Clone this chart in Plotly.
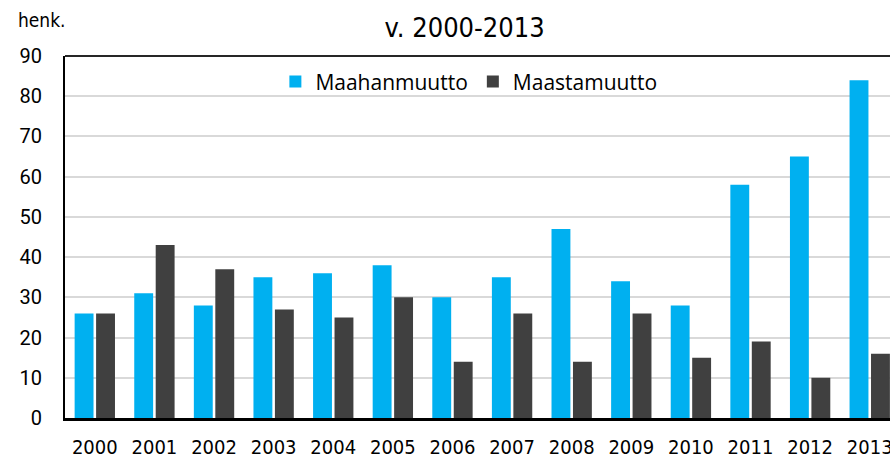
import plotly.graph_objects as go

years = [str(y) for y in range(2000, 2014)]
maahanmuutto = [26, 31, 28, 35, 36, 38, 30, 35, 47, 34, 28, 58, 65, 84]
maastamuutto = [26, 43, 37, 27, 25, 30, 14, 26, 14, 26, 15, 19, 10, 16]

NARROW = "Liberation Sans Narrow, DejaVu Sans Condensed, Roboto Condensed, Arial Narrow, Liberation Sans, sans-serif"

fig = go.Figure()
fig.add_trace(go.Bar(x=years, y=maahanmuutto, name="Maahanmuutto",
                     marker=dict(color="#00b0f0", line=dict(width=0))))
fig.add_trace(go.Bar(x=years, y=maastamuutto, name="Maastamuutto",
                     marker=dict(color="#404040", line=dict(width=0))))

fig.update_layout(
    width=890, height=459,
    margin=dict(l=65, r=0, t=56, b=41, autoexpand=False),
    paper_bgcolor="white", plot_bgcolor="white",
    barmode="group", bargap=0.28, bargroupgap=0.12,
    showlegend=True,
    legend=dict(orientation="h", x=0.255, y=0.985, xanchor="left", yanchor="top",
                bgcolor="rgba(0,0,0,0)",
                font=dict(family="Open Sans", size=21, color="#000000"),
                itemwidth=30, tracegroupgap=0),
    title=dict(text="v. 2000-2013", x=0.522, xanchor="center", y=0.939, yanchor="middle",
               font=dict(family=NARROW, size=27, color="#000000")),
    annotations=[dict(text="henk.", xref="paper", yref="paper", x=-0.028, y=1.099,
                      xanchor="center", yanchor="middle", showarrow=False,
                      font=dict(family=NARROW, size=19, color="#000000"))],
    shapes=[dict(type="line", xref="paper", yref="paper", x0=0, x1=1, y0=1, y1=1,
                 line=dict(color="#262626", width=2))],
    xaxis=dict(range=[-0.5, 13.34], showline=True, linecolor="#000000", linewidth=3,
               showgrid=False, ticks="", ticklabelstandoff=9, automargin=False,
               tickfont=dict(family=NARROW, size=20, color="#000000")),
    yaxis=dict(range=[0, 90], dtick=10, showline=True, linecolor="#000000", linewidth=2,
               showgrid=True, gridcolor="#d9d9d9", gridwidth=2, zeroline=False,
               ticks="", ticklabelstandoff=17, automargin=False,
               tickfont=dict(family="Roboto", size=20, color="#000000")),
)

fig.write_html("out.html", config={"displayModeBar": False},
               post_script="document.body.style.margin='0';document.body.style.overflow='hidden';")
